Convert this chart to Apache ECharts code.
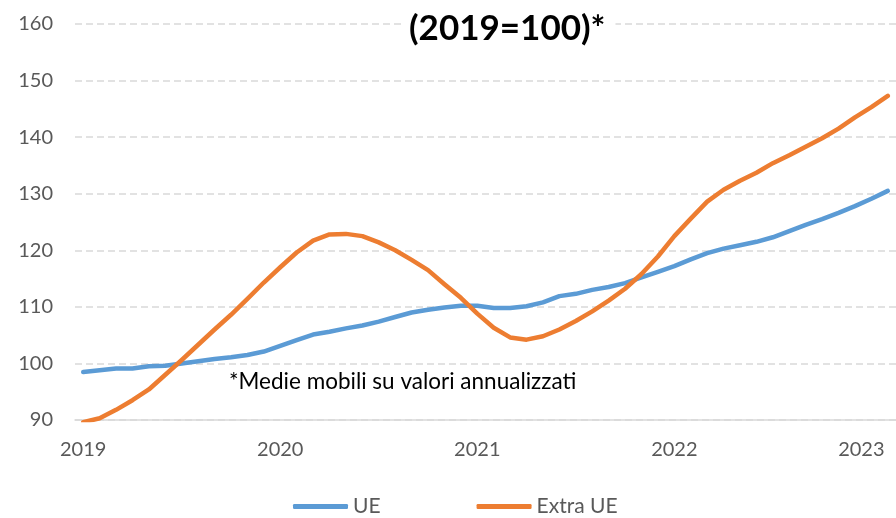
<!DOCTYPE html>
<html>
<head>
<meta charset="utf-8">
<script src="https://cdn.jsdelivr.net/npm/echarts@6/dist/echarts.min.js"></script>
<style>
  html, body { margin: 0; padding: 0; background: #fff; }
  #chart { width: 896px; height: 518px; }
</style>
</head>
<body>
<div id="chart"></div>
<script>
// months Jan 2019 .. Feb 2023
const months = [
  '2019-01','2019-02','2019-03','2019-04','2019-05','2019-06','2019-07','2019-08','2019-09','2019-10','2019-11','2019-12',
  '2020-01','2020-02','2020-03','2020-04','2020-05','2020-06','2020-07','2020-08','2020-09','2020-10','2020-11','2020-12',
  '2021-01','2021-02','2021-03','2021-04','2021-05','2021-06','2021-07','2021-08','2021-09','2021-10','2021-11','2021-12',
  '2022-01','2022-02','2022-03','2022-04','2022-05','2022-06','2022-07','2022-08','2022-09','2022-10','2022-11','2022-12',
  '2023-01','2023-02'
];

const ue = [
  98.5, 98.8, 99.1, 99.1, 99.5, 99.6, 100.0, 100.4, 100.8, 101.1, 101.5, 102.1,
  103.1, 104.1, 105.1, 105.6, 106.2, 106.7, 107.4, 108.2, 109.0, 109.5, 109.9, 110.2,
  110.2, 109.8, 109.8, 110.1, 110.8, 111.9, 112.3, 113.0, 113.5, 114.2, 115.2, 116.2,
  117.2, 118.4, 119.5, 120.3, 120.9, 121.5, 122.3, 123.4, 124.5, 125.5, 126.6, 127.8,
  129.1, 130.5
];

const extraUe = [
  89.6, 90.3, 91.8, 93.5, 95.4, 98.0, 100.6, 103.3, 106.0, 108.6, 111.4, 114.3,
  117.0, 119.6, 121.7, 122.8, 122.9, 122.5, 121.4, 120.0, 118.3, 116.5, 114.0, 111.6,
  108.8, 106.3, 104.6, 104.2, 104.8, 106.0, 107.5, 109.2, 111.1, 113.2, 115.8, 118.9,
  122.5, 125.6, 128.6, 130.7, 132.3, 133.7, 135.4, 136.8, 138.3, 139.8, 141.5, 143.5,
  145.3, 147.3
];

const seriesNames = ['UE', 'Extra UE'];
const titleText = '(2019=100)*';
const noteText = '*Medie mobili su valori annualizzati';

const font = 'Lato, "Open Sans", sans-serif';
const grey = '#595959';

let chart = echarts.init(document.getElementById('chart'));
chart.setOption({
  animation: false,
  backgroundColor: '#fff',
  title: {
    text: titleText,
    left: 403,
    top: 9,
    padding: [2, 10, 2, 6],
    backgroundColor: '#fff',
    textStyle: { fontFamily: font, fontSize: 35, fontWeight: 'bold', color: '#000' }
  },
  graphic: [{
    type: 'text',
    left: 229,
    top: 370,
    style: { text: noteText, font: '22.5px ' + font, fill: '#000' }
  }],
  legend: {
    data: seriesNames,
    left: 293,
    top: 496,
    padding: 0,
    icon: 'roundRect',
    itemWidth: 55,
    itemHeight: 5,
    itemGap: 96,
    textStyle: { fontFamily: font, fontSize: 21, color: grey }
  },
  grid: { left: 75, right: 0, top: 24, bottom: 98, containLabel: false },
  xAxis: {
    type: 'category',
    data: months,
    boundaryGap: true,
    axisLine: { lineStyle: { color: '#d9d9d9', width: 1.5 } },
    axisTick: { show: false },
    axisLabel: {
      interval: 11,
      margin: 20,
      color: grey,
      fontFamily: font,
      fontSize: 20,
      // last year label is pushed left like in the original
      formatter: v => v.startsWith('2023') ? '{last|2023}' : v.slice(0, 4),
      rich: {
        last: { padding: [0, 20, 0, 0], color: grey, fontFamily: font, fontSize: 20 }
      }
    }
  },
  yAxis: {
    type: 'value',
    min: 90,
    max: 160,
    interval: 10,
    axisLine: { show: false },
    axisTick: { show: false },
    axisLabel: { margin: 22, color: grey, fontFamily: font, fontSize: 20 },
    splitLine: { lineStyle: { color: '#d9d9d9', width: 1.5, type: [7, 4] } }
  },
  series: [
    {
      name: seriesNames[0],
      type: 'line',
      data: ue,
      showSymbol: false,
      symbol: 'none',
      itemStyle: { color: '#5b9bd5' },
      lineStyle: { color: '#5b9bd5', width: 4.5, cap: 'round', join: 'round' }
    },
    {
      name: seriesNames[1],
      type: 'line',
      data: extraUe,
      showSymbol: false,
      symbol: 'none',
      itemStyle: { color: '#ed7d31' },
      lineStyle: { color: '#ed7d31', width: 4.5, cap: 'round', join: 'round' }
    }
  ]
});
</script>
</body>
</html>
